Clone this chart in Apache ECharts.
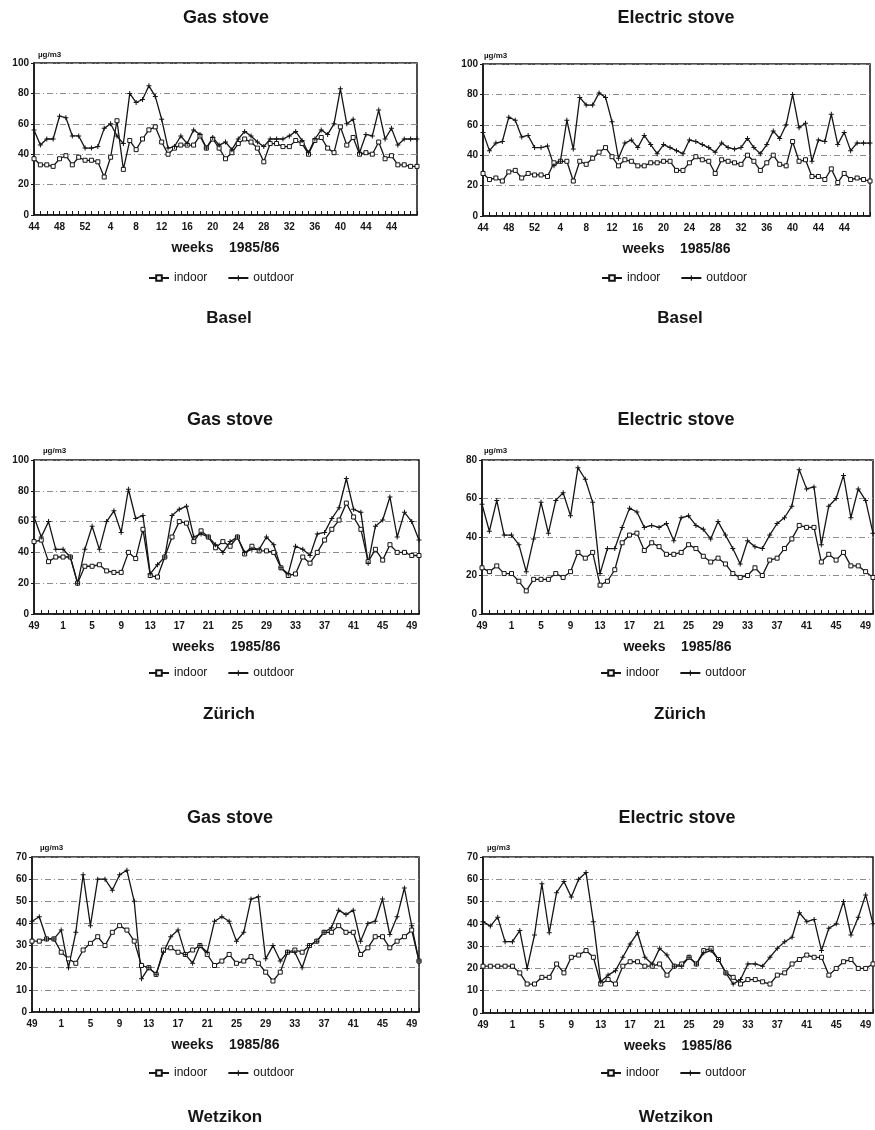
<!DOCTYPE html>
<html><head><meta charset="utf-8">
<script src="https://cdn.jsdelivr.net/npm/echarts/dist/echarts.min.js"></script>
<style>html,body{margin:0;padding:0;background:#fff}#c{width:875px;height:1130px}</style>
</head><body><div id="c"></div>
<script>
// ---------- DATA ----------
const weeksBasel = [44,45,46,47,48,49,50,51,52,1,2,3,4,5,6,7,8,9,10,11,12,13,14,15,16,17,18,19,20,21,22,23,24,25,26,27,28,29,30,31,32,33,34,35,36,37,38,39,40,41,42,43,44,45,46,47,48,49,50,51,52];
const weeksZW = [49,50,51,52,1,2,3,4,5,6,7,8,9,10,11,12,13,14,15,16,17,18,19,20,21,22,23,24,25,26,27,28,29,30,31,32,33,34,35,36,37,38,39,40,41,42,43,44,45,46,47,48,49,50];
const tickLabelsBasel = ['44','48','52','4','8','12','16','20','24','28','32','36','40','44','44'];
const tickLabelsZW = ['49','1','5','9','13','17','21','25','29','33','37','41','45','49'];

const baselGasIndoor  = [37,33,33,32,37,39,33,38,36,36,35,25,38,62,30,49,43,50,56,58,48,40,44,46,46,46,52,44,50,44,37,41,47,50,48,44,35,47,47,45,45,49,47,40,49,51,44,41,58,46,51,40,41,40,48,37,39,33,33,32,32];
const baselGasOutdoor = [56,46,50,50,65,64,52,52,44,44,45,57,60,52,47,80,74,76,85,78,63,44,45,52,47,56,53,44,51,46,48,43,50,55,52,48,45,50,50,50,52,55,49,41,50,56,53,60,83,60,63,41,53,52,69,50,57,46,50,50,50];
const baselElIndoor   = [28,24,25,23,29,30,25,28,27,27,26,35,36,36,23,36,34,38,42,45,39,33,37,36,33,33,35,35,36,36,30,30,35,39,37,36,28,37,36,35,34,40,36,30,35,40,34,33,49,36,37,26,26,24,31,22,28,24,25,24,23];
const baselElOutdoor  = [55,43,48,49,65,63,52,53,45,45,46,33,36,63,44,78,73,73,81,78,62,38,48,50,45,53,47,41,47,45,43,41,50,49,47,45,42,48,45,44,45,51,45,41,47,56,51,60,80,58,61,36,50,49,67,47,55,43,48,48,48];

const zuerichGasIndoor  = [47,48,34,37,37,37,20,31,31,32,28,27,27,40,36,55,25,24,37,50,60,59,47,54,50,43,47,44,50,39,44,41,41,40,30,25,26,37,33,40,48,55,61,72,63,55,34,42,35,45,40,40,38,38];
const zuerichGasOutdoor = [63,50,60,42,42,37,20,42,57,42,60,67,53,81,62,64,26,32,37,64,68,70,50,52,50,45,40,47,50,40,42,42,50,45,30,26,44,42,38,52,53,62,69,88,68,66,33,57,61,76,50,66,60,48];
const zuerichElIndoor   = [24,22,25,21,21,17,12,18,18,18,21,19,22,32,29,32,15,17,23,37,41,42,33,37,35,31,31,32,36,34,30,27,29,26,21,19,20,24,20,28,29,34,39,46,45,45,27,31,28,32,25,25,22,19];
const zuerichElOutdoor  = [57,43,59,41,41,36,22,39,58,42,59,63,51,76,70,58,21,34,34,45,55,53,45,46,45,47,38,50,51,46,44,39,48,41,34,26,38,35,34,41,47,50,56,75,65,66,36,56,60,72,50,65,59,42];

const wetzikonGasIndoor  = [32,32,33,33,27,24,22,28,31,34,30,36,39,37,32,21,20,17,28,29,27,26,28,30,26,21,23,26,22,23,25,22,18,14,18,27,28,27,30,32,36,36,39,36,36,26,29,34,34,29,32,34,37,23];
const wetzikonGasOutdoor = [41,43,33,33,37,20,36,62,39,60,60,55,62,64,50,15,20,17,27,34,37,26,22,30,27,41,43,41,32,36,51,52,24,30,23,27,27,20,30,32,36,38,46,44,46,32,40,41,51,35,43,56,39,23];
const wetzikonElIndoor   = [21,21,21,21,21,18,13,13,16,16,22,18,25,26,28,25,13,15,13,21,23,23,21,21,22,17,21,22,25,22,28,29,24,18,16,13,15,15,14,13,17,18,22,24,26,25,25,17,20,23,24,20,20,22];
const wetzikonElOutdoor  = [41,39,43,32,32,37,20,35,58,36,54,59,52,60,63,41,14,17,19,25,31,36,25,22,29,26,21,21,25,22,27,28,24,18,13,15,22,22,21,25,29,32,34,45,41,42,28,38,40,50,35,43,53,40];

// ---------- LAYOUT ----------
const FONT = '"Liberation Sans", Arial, Helvetica, sans-serif';
const INK = '#151515';
const plusPath = 'path://M4,0H6V4H10V6H6V10H4V6H0V4H4Z';

const panels = [
  {g:[34,63,383,152],  cats:weeksBasel, ticks:tickLabelsBasel, max:100, iv:20, indoor:baselGasIndoor, outdoor:baselGasOutdoor,
   title:'Gas stove', tx:226, ty:18, ux:38, uy:55, lx:148, ly:272, city:'Basel', cx:229, cy:318},
  {g:[483,64,387,152], cats:weeksBasel, ticks:tickLabelsBasel, max:100, iv:20, indoor:baselElIndoor, outdoor:baselElOutdoor,
   title:'Electric stove', tx:676, ty:18, ux:484, uy:56, lx:601, ly:272, city:'Basel', cx:680, cy:318},
  {g:[34,460,385,154], cats:weeksZW, ticks:tickLabelsZW, max:100, iv:20, indoor:zuerichGasIndoor, outdoor:zuerichGasOutdoor,
   title:'Gas stove', tx:230, ty:420, ux:43, uy:451, lx:148, ly:667, city:'Zürich', cx:229, cy:714},
  {g:[482,460,391,154], cats:weeksZW, ticks:tickLabelsZW, max:80, iv:20, indoor:zuerichElIndoor, outdoor:zuerichElOutdoor,
   title:'Electric stove', tx:676, ty:420, ux:484, uy:451, lx:600, ly:667, city:'Zürich', cx:680, cy:714},
  {g:[32,857,387,155], cats:weeksZW, ticks:tickLabelsZW, max:70, iv:10, indoor:wetzikonGasIndoor, outdoor:wetzikonGasOutdoor,
   title:'Gas stove', tx:230, ty:818, ux:40, uy:848, lx:148, ly:1067, city:'Wetzikon', cx:225, cy:1117},
  {g:[483,857,390,156], cats:weeksZW, ticks:tickLabelsZW, max:70, iv:10, indoor:wetzikonElIndoor, outdoor:wetzikonElOutdoor,
   title:'Electric stove', tx:677, ty:818, ux:487, uy:848, lx:600, ly:1067, city:'Wetzikon', cx:676, cy:1117}
];

const option = {animation:false, backgroundColor:'#fff', grid:[], xAxis:[], yAxis:[], series:[], legend:[], graphic:[]};

function txt(text, x, y, size, weight, align) {
  return {type:'text', x:x, y:y, silent:true,
    style:{text:text, font: weight + ' ' + size + 'px ' + FONT, fill:INK,
      textAlign:align, align:align, textVerticalAlign:'middle', verticalAlign:'middle'}};
}

panels.forEach((p, k) => {
  option.grid.push({left:p.g[0], top:p.g[1], width:p.g[2], height:p.g[3], show:true,
    borderColor:INK, borderWidth:1.5, backgroundColor:'transparent', containLabel:false, outerBoundsMode:'none'});
  option.xAxis.push({gridIndex:k, type:'category', data:p.cats, boundaryGap:false,
    axisLine:{show:true, lineStyle:{color:INK, width:1.5}},
    axisTick:{show:true, inside:true, length:4, interval:0, lineStyle:{color:INK, width:1}},
    axisLabel:{interval:0, margin:7, color:INK, fontFamily:FONT, fontSize:10, fontWeight:'bold',
      formatter:(v, i) => (i % 4 === 0 && p.ticks[i/4] !== undefined) ? p.ticks[i/4] : ''},
    splitLine:{show:false},
    name:'weeks    1985/86', nameLocation:'middle', nameGap:26,
    nameTextStyle:{color:INK, fontFamily:FONT, fontSize:14, fontWeight:'bold'}});
  option.yAxis.push({gridIndex:k, type:'value', min:0, max:p.max, interval:p.iv,
    axisLine:{show:true, lineStyle:{color:INK, width:1.5}},
    axisTick:{show:true, length:3, lineStyle:{color:INK, width:1}},
    axisLabel:{margin:5, color:INK, fontFamily:FONT, fontSize:10, fontWeight:'bold'},
    splitLine:{show:true, lineStyle:{color:'#8c8c8c', width:1, type:[6,3,1,3]}}});
  option.series.push({name:'indoor', type:'line', xAxisIndex:k, yAxisIndex:k, data:p.indoor,
    symbol:'rect', symbolSize:4, showAllSymbol:true, silent:true,
    lineStyle:{color:INK, width:1.3}, itemStyle:{color:'#fff', borderColor:INK, borderWidth:1},
    emphasis:{disabled:true}});
  option.series.push({name:'outdoor', type:'line', xAxisIndex:k, yAxisIndex:k, data:p.outdoor,
    symbol:plusPath, symbolSize:5, showAllSymbol:true, silent:true,
    lineStyle:{color:INK, width:1.3}, itemStyle:{color:INK},
    emphasis:{disabled:true}});
  option.legend.push({left:p.lx, top:p.ly, itemWidth:20, itemHeight:7, itemGap:20, selectedMode:false,
    data:['indoor','outdoor'], textStyle:{color:INK, fontFamily:FONT, fontSize:12}, padding:0});
  option.graphic.push(txt(p.title, p.tx, p.ty, 18, 'bold', 'center'));
  option.graphic.push(txt(p.city, p.cx, p.cy, 17, 'bold', 'center'));
  option.graphic.push(txt('µg/m3', p.ux, p.uy, 8, 'bold', 'left'));
});

const chart = echarts.init(document.getElementById('c'), null, {renderer:'canvas'});
chart.setOption(option);
</script>
</body></html>
